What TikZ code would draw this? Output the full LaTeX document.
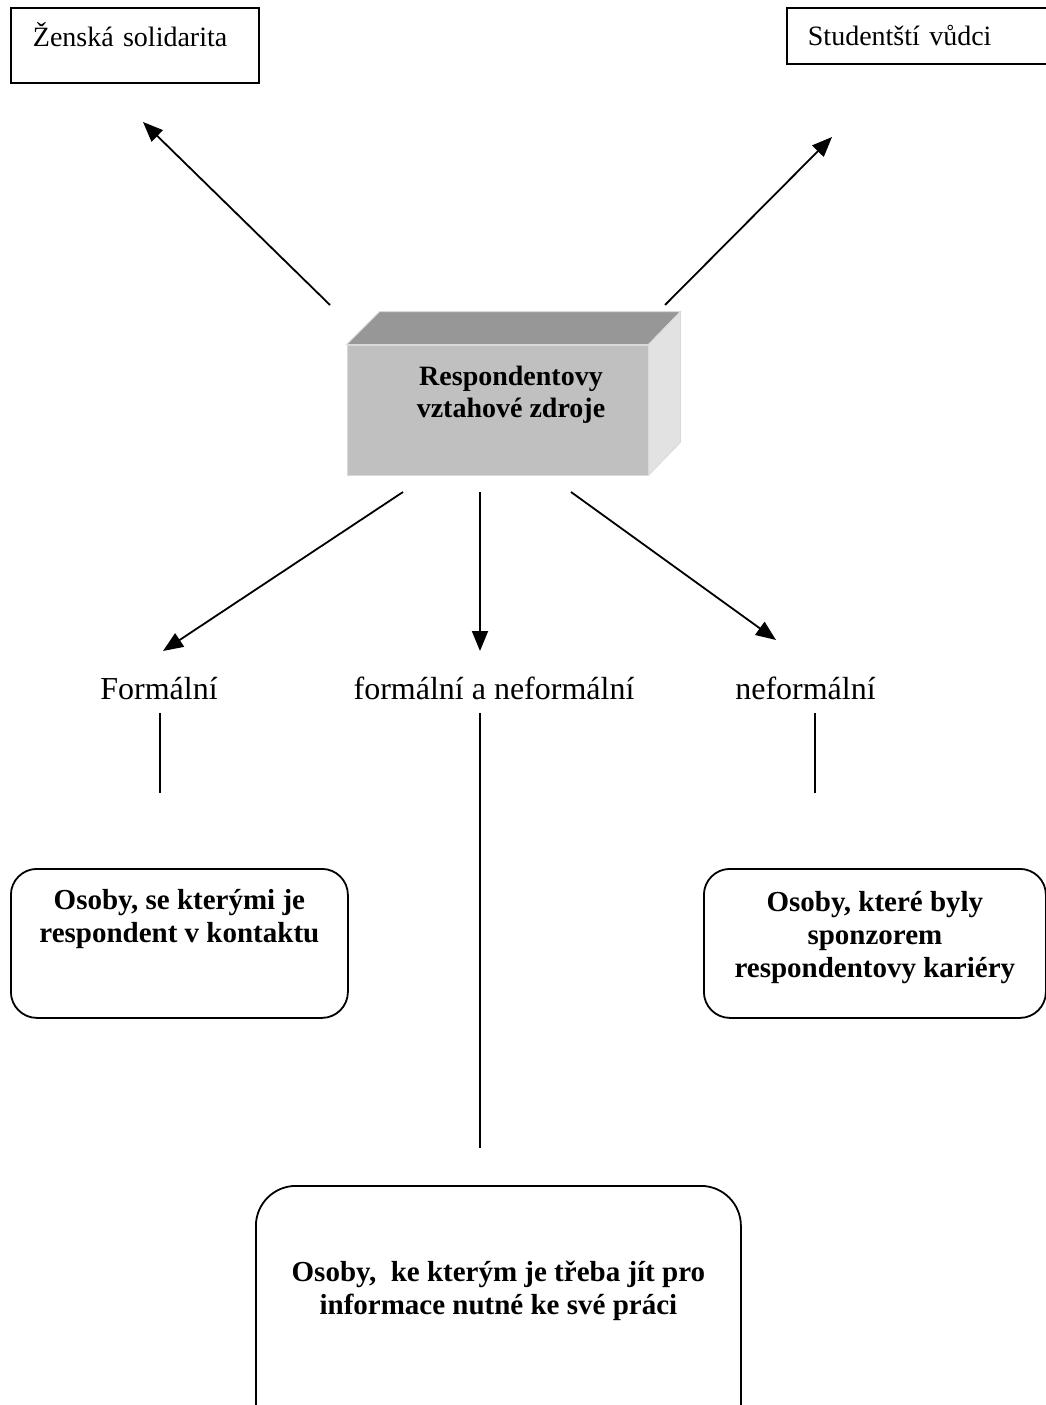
\documentclass[tikz,border=0pt]{standalone}
\usepackage{fontspec}
\setmainfont{Liberation Serif}
\usetikzlibrary{arrows.meta,positioning,calc}

\definecolor{boxfront}{HTML}{C0C0C0}
\definecolor{boxtop}{HTML}{979797}
\definecolor{boxside}{HTML}{E2E2E2}

\tikzset{
	 every node/.style={font=\fontsize{28}{33}\selectfont},
	 plainbox/.style={draw, line width=1.8pt, inner xsep=22pt, inner ysep=0pt, align=left, anchor=north west},
	 roundbox/.style={draw, line width=1.8pt, rounded corners=26pt, anchor=north west},
	 boldtext/.style={font=\fontsize{29}{33}\selectfont\bfseries, align=center, inner sep=0pt},
	 levellabel/.style={font=\fontsize{32}{36}\selectfont, inner sep=0pt, anchor=base},
	 arr/.style={line width=1.8pt, -{Triangle[length=20pt,width=16pt]}},
	 link/.style={line width=1.8pt}
}

\begin{document}
\begin{tikzpicture}[x=1pt, y=-1pt]
	 \useasboundingbox (0, 0) rectangle (1046, 1405);
	 
	 % top boxes
	 \node[plainbox, text width=204pt, text height=39pt, text depth=36pt] (zs) at (10, 7) {Ženská solidarita};
	 \node[plainbox, inner xsep=21pt, text width=240pt, text height=38pt, text depth=18pt] (sv) at (786, 7) {Studentští vůdci};
	 
	 % the 3D box
	 \node[fill=boxfront, draw=white!85!black, line width=0.8pt, minimum width=301pt, minimum height=130pt] (src) at (497.5, 410) {};
	 \filldraw[fill=boxtop, draw=white!85!black, line width=0.8pt] (src.north west) -- ++(33, -33) -- ($(src.north east) + (32, -33)$) -- (src.north east) -- cycle;
	 \filldraw[fill=boxside, draw=white!85!black, line width=0.8pt] (src.north east) -- ++(32, -33) -- ($(src.south east) + (32, -33)$) -- (src.south east) -- cycle;
	 \node[boldtext, font=\fontsize{28}{32}\selectfont\bfseries, anchor=north] (srctext) at (511, 366) {Respondentovy\\vztahové zdroje};
	 
	 % arrow ends
	 \coordinate (upL) at (330, 305);
	 \coordinate (upLtip) at (143, 122);
	 \coordinate (upR) at (665, 305);
	 \coordinate (upRtip) at (832, 137);
	 \coordinate (dnL) at (403, 492);
	 \coordinate (dnLtip) at (163, 651);
	 \coordinate (dnM) at (480, 492);
	 \coordinate (dnMtip) at (480, 651);
	 \coordinate (dnR) at (571, 492);
	 \coordinate (dnRtip) at (776, 640);
	 
	 \draw[arr] (upL) -- (upLtip);
	 \draw[arr] (upR) -- (upRtip);
	 \draw[arr] (dnL) -- (dnLtip);
	 \draw[arr] (dnM) -- (dnMtip);
	 \draw[arr] (dnR) -- (dnRtip);
	 
	 % levels
	 \node[levellabel] (formal) at (159, 699) {Formální};
	 \node[levellabel] (both) at (494, 699) {formální a neformální};
	 \node[levellabel] (informal) at (805.5, 699) {neformální};
	 
	 % bottom boxes
	 \node[roundbox, minimum width=337pt, minimum height=149pt] (osL) at (10, 868) {};
	 \node[boldtext, below=21pt of osL.north] (osLtext) {Osoby, se kterými je\\respondent v kontaktu};
	 
	 \node[roundbox, minimum width=342pt, minimum height=149pt] (osR) at (703, 868) {};
	 \node[boldtext, below=23pt of osR.north] (osRtext) {Osoby, které byly\\sponzorem\\respondentovy kariéry};
	 
	 \node[roundbox, rounded corners=40pt, minimum width=485pt, minimum height=260pt] (osM) at (255, 1185) {};
	 \node[boldtext, below=76pt of osM.north] (osMtext) {Osoby,~ ke kterým je třeba jít pro\\informace nutné ke své práci};
	 
	 % lines
	 \coordinate (lnL) at (160, 713);
	 \coordinate (lnLend) at (160, 793);
	 \coordinate (lnM) at (480, 713);
	 \coordinate (lnMend) at (480, 1148);
	 \coordinate (lnR) at (815, 713);
	 \coordinate (lnRend) at (815, 793);
	 
	 \draw[link] (lnL) -- (lnLend);
	 \draw[link] (lnM) -- (lnMend);
	 \draw[link] (lnR) -- (lnRend);
\end{tikzpicture}
\end{document}
